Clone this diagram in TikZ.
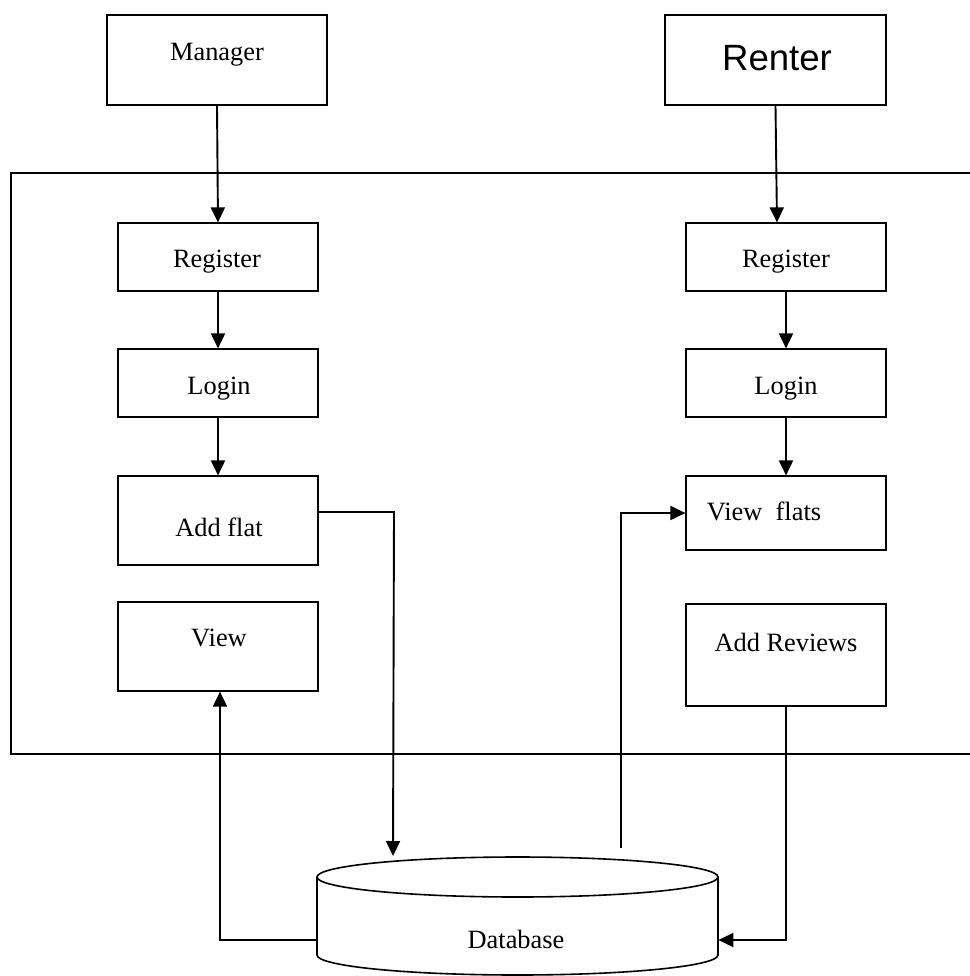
\documentclass[tikz,border=0pt]{standalone}
\usepackage{fontspec}
\setmainfont{Liberation Serif}
\newfontfamily\arialfont{Liberation Sans}
\usetikzlibrary{arrows.meta,calc}
\begin{document}
\begin{tikzpicture}[x=0.5pt,y=-0.5pt,
  box/.style={draw, line width=0.6pt, inner sep=0pt, minimum width=100pt},
  txt/.style={font=\fontsize{13.2pt}{15pt}\selectfont, inner sep=0pt, anchor=base},
  flow/.style={line width=0.95pt, -{Triangle[length=7.5pt,width=7pt]}},
  plainline/.style={line width=0.8pt}]
\useasboundingbox (0,0) rectangle (970,976);

% outer system frame
\draw[line width=1pt] (975,173) -- (11,173) -- (11,754) -- (975,754);

% actors
\node[box, minimum width=110pt, minimum height=45pt] (mgr) at (217,60) {};
\node[txt] (tmgr) at (217,60) {Manager};
\node[box, minimum width=110.5pt, minimum height=45pt] (rnt) at (775.5,60) {};
\node[txt, font=\arialfont\fontsize{18.3pt}{22pt}\selectfont] (trnt) at (777,70) {Renter};

% left column
\node[box, minimum height=34pt] (regL) at (218,257) {};
\node[txt] (tregL) at (217,267) {Register};
\node[box, minimum height=34pt] (loginL) at (218,383) {};
\node[txt] (tloginL) at (219,394) {Login};
\node[box, minimum height=44.5pt] (addL) at (218,520.5) {};
\node[txt] (taddL) at (219,536) {Add flat};
\node[box, minimum height=44.5pt] (viewL) at (218,646.5) {};
\node[txt] (tviewL) at (219,646) {View};

% right column
\node[box, minimum height=34pt] (regR) at (786,257) {};
\node[txt] (tregR) at (786,267) {Register};
\node[box, minimum height=34pt] (loginR) at (786,383) {};
\node[txt] (tloginR) at (786,394) {Login};
\node[box, minimum height=37pt] (viewF) at (786,513) {};
\node[txt] (tviewF) at (764,520) {View\ \ flats};
\node[box, minimum height=51pt] (rev) at (786,655) {};
\node[txt] (trev) at (786,651) {Add Reviews};

% database
\node[minimum width=200.5pt, minimum height=59pt, inner sep=0pt] (db) at (517.5,916) {};
\draw[plainline] (317,877) -- (317,955)
   arc[start angle=180, end angle=360, x radius=100.25pt, y radius=10pt] -- (718,877);
\draw[plainline] (517.5,877) ellipse [x radius=100.25pt, y radius=10pt];
\node[txt] (dbl) at (516,948) {Database};

% vertical flows
\draw[flow] (mgr.south) -- (regL.north);
\draw[flow] (rnt.south) -- ($(regR.north)+(-9,0)$);
\draw[flow] (regL.south) -- (loginL.north);
\draw[flow] (loginL.south) -- (addL.north);
\draw[flow] (regR.south) -- (loginR.north);
\draw[flow] (loginR.south) -- (viewF.north);

% Add flat -> Database
\coordinate (c1) at (394,512);
\coordinate (dbin) at (393,856);
\draw[flow] (addL.east |- c1) -- (c1) -- (dbin);

% Database -> View flats
\coordinate (c2) at (621,513);
\coordinate (dbout) at (621,848);
\draw[flow] (dbout) -- (c2) -- (viewF.west);

% Database -> View
\coordinate (c3) at (220,940);
\draw[flow] (db.west |- c3) -- (c3) -- (c3 |- viewL.south);

% Add Reviews -> Database
\coordinate (c4) at (786,940);
\draw[flow] (rev.south) -- (c4) -- (db.east |- c4);
\end{tikzpicture}
\end{document}
